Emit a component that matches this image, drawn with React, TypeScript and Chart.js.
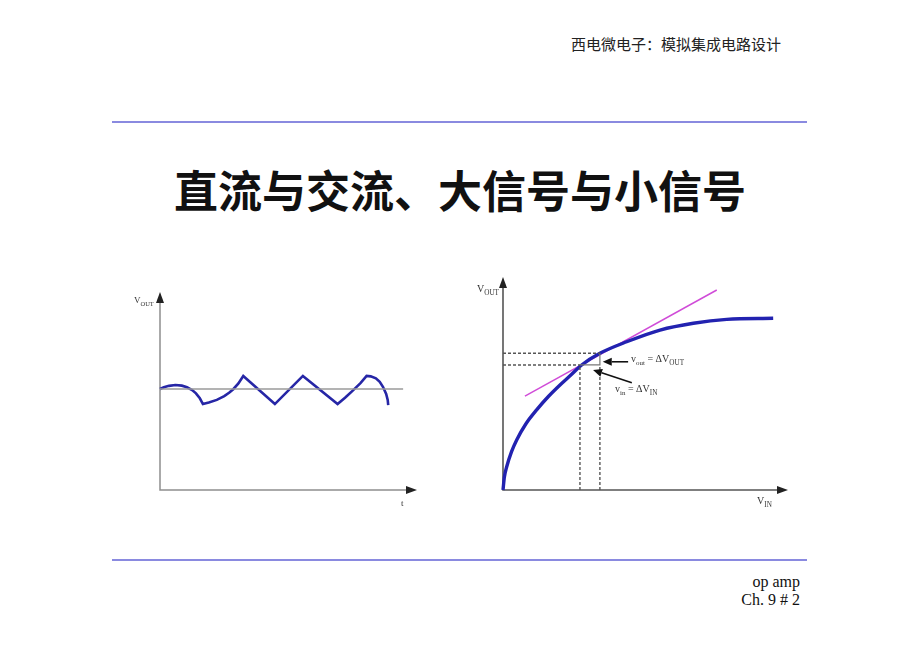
import React, { useEffect, useRef } from "react";
import { Chart, registerables } from "chart.js";

Chart.register(...registerables);

// ---------- Left diagram: DC level with a small AC signal (V_OUT vs t) ----------
const dcLevelT = [0, 9.46];
const dcLevelV = [5.1, 5.1];
const waveT = [
  0, 0.15, 0.35, 0.6, 0.85, 1.05, 1.25, 1.4, 1.55, 1.67,
  1.9, 2.21, 2.5, 2.7, 2.85, 3.05, 3.24,
  4.47, 5.56, 6.91,
  7.2, 7.5, 7.8, 8.04,
  8.2, 8.4, 8.55, 8.68, 8.8, 8.86, 8.88,
];
const waveV = [
  5.1, 5.19, 5.26, 5.3, 5.27, 5.19, 5.05, 4.88, 4.63, 4.34,
  4.42, 4.55, 4.74, 4.92, 5.09, 5.38, 5.76,
  4.34, 5.76, 4.34,
  4.66, 5.02, 5.4, 5.76,
  5.74, 5.64, 5.46, 5.2, 4.85, 4.55, 4.29,
];

// ---------- Right diagram: large-signal transfer curve and small-signal tangent ----------
const vinX = [0, 0.05, 0.13, 0.3, 0.48, 0.8, 1.18, 1.6, 2.0, 2.4, 2.76, 3.4, 4.34, 5.51, 6.68, 7.85, 9.48];
const voutY = [0, 0.62, 1.09, 1.8, 2.35, 3.1, 3.76, 4.4, 4.93, 5.42, 5.87, 6.42, 6.96, 7.51, 7.83, 8.01, 8.06];
const tangentX = [0.77, 7.5];
const tangentY = [4.41, 9.39];
const biasIn = [2.7, 3.4];
const biasOut = [5.87, 6.42];
// annotation arrows: [tailX, tailY, headX, headY]
const arrowVout = [4.39, 6.02, 3.5, 6.02];
const arrowVin = [4.52, 5.04, 3.16, 5.63];

const pts = (xs: number[], ys: number[]) => xs.map((x, i) => ({ x, y: ys[i] }));

const axisArrows = {
  id: "axisArrows",
  beforeDatasetsDraw(chart: any, _args: any, opts: any) {
    const { ctx, chartArea: a } = chart;
    ctx.save();
    ctx.strokeStyle = opts.color;
    ctx.lineWidth = opts.width;
    ctx.beginPath();
    ctx.moveTo(a.left, a.top + 6);
    ctx.lineTo(a.left, a.bottom);
    ctx.lineTo(a.right - 6, a.bottom);
    ctx.stroke();
    ctx.fillStyle = opts.head;
    ctx.beginPath();
    ctx.moveTo(a.left, a.top);
    ctx.lineTo(a.left - 4, a.top + 11);
    ctx.lineTo(a.left + 4, a.top + 11);
    ctx.closePath();
    ctx.fill();
    ctx.beginPath();
    ctx.moveTo(a.right, a.bottom);
    ctx.lineTo(a.right - 11, a.bottom - 4);
    ctx.lineTo(a.right - 11, a.bottom + 4);
    ctx.closePath();
    ctx.fill();
    ctx.restore();
  },
};

const noteArrows = {
  id: "noteArrows",
  afterDatasetsDraw(chart: any, _args: any, opts: any) {
    const list: number[][] = opts.arrows || [];
    if (!list.length) return;
    const { ctx, scales } = chart;
    ctx.save();
    ctx.strokeStyle = "#111";
    ctx.fillStyle = "#111";
    ctx.lineWidth = 1.6;
    for (const [tx, ty, hx, hy] of list) {
      const x0 = scales.x.getPixelForValue(tx);
      const y0 = scales.y.getPixelForValue(ty);
      const x1 = scales.x.getPixelForValue(hx);
      const y1 = scales.y.getPixelForValue(hy);
      const ang = Math.atan2(y1 - y0, x1 - x0);
      const L = 9, W = 4;
      const bx = x1 - L * Math.cos(ang);
      const by = y1 - L * Math.sin(ang);
      ctx.beginPath();
      ctx.moveTo(x0, y0);
      ctx.lineTo(bx, by);
      ctx.stroke();
      ctx.beginPath();
      ctx.moveTo(x1, y1);
      ctx.lineTo(bx - W * Math.sin(ang), by + W * Math.cos(ang));
      ctx.lineTo(bx + W * Math.sin(ang), by - W * Math.cos(ang));
      ctx.closePath();
      ctx.fill();
    }
    ctx.restore();
  },
};

const hiddenScales = {
  x: { type: "linear", min: 0, max: 10, display: false },
  y: { type: "linear", min: 0, max: 10, display: false },
};

const baseOptions = (padding: any, axis: any, arrows: number[][]) => ({
  responsive: false,
  animation: false,
  devicePixelRatio: 1,
  layout: { padding },
  scales: hiddenScales,
  plugins: {
    legend: { display: false },
    tooltip: { enabled: false },
    axisArrows: axis,
    noteArrows: { arrows },
  },
  elements: { point: { radius: 0 } },
});

const LeftChart = () => {
  const ref = useRef<HTMLCanvasElement>(null);
  useEffect(() => {
    const chart = new Chart(ref.current as HTMLCanvasElement, {
      type: "scatter",
      data: {
        datasets: [
          {
            data: pts(dcLevelT, dcLevelV),
            showLine: true,
            borderColor: "#9a9a9a",
            borderWidth: 1.5,
            pointRadius: 0,
            clip: false,
          },
          {
            data: pts(waveT, waveV),
            showLine: true,
            borderColor: "#2626a6",
            borderWidth: 2.6,
            pointRadius: 0,
            tension: 0,
            clip: false,
          },
        ],
      } as any,
      options: baseOptions(
        { left: 10, top: 10, right: 13, bottom: 12 },
        { color: "#8f8f8f", width: 1.5, head: "#222" },
        []
      ) as any,
      plugins: [axisArrows, noteArrows],
    });
    return () => chart.destroy();
  }, []);
  return (
    <canvas
      ref={ref}
      width={280}
      height={220}
      style={{ position: "absolute", left: 150, top: 282, width: 280, height: 220 }}
    />
  );
};

const RightChart = () => {
  const ref = useRef<HTMLCanvasElement>(null);
  useEffect(() => {
    const dash = [3, 2];
    const gray = "#555";
    const chart = new Chart(ref.current as HTMLCanvasElement, {
      type: "scatter",
      data: {
        datasets: [
          { data: pts([0, biasIn[1]], [biasOut[1], biasOut[1]]), showLine: true, borderColor: gray, borderWidth: 1.4, borderDash: dash, pointRadius: 0, clip: false },
          { data: pts([0, biasIn[0]], [biasOut[0], biasOut[0]]), showLine: true, borderColor: gray, borderWidth: 1.4, borderDash: dash, pointRadius: 0, clip: false },
          { data: pts([biasIn[0], biasIn[0]], [0, biasOut[0]]), showLine: true, borderColor: gray, borderWidth: 1.4, borderDash: dash, pointRadius: 0, clip: false },
          { data: pts([biasIn[1], biasIn[1]], [0, biasOut[0]]), showLine: true, borderColor: gray, borderWidth: 1.4, borderDash: dash, pointRadius: 0, clip: false },
          { data: pts([biasIn[0], biasIn[1], biasIn[1]], [biasOut[0], biasOut[0], biasOut[1]]), showLine: true, borderColor: "#777", borderWidth: 1.2, pointRadius: 0, clip: false },
          {
            data: pts(vinX, voutY),
            showLine: true,
            borderColor: "#2222b0",
            borderWidth: 3.4,
            pointRadius: 0,
            tension: 0.4,
            cubicInterpolationMode: "monotone",
            clip: false,
          },
          { data: pts(tangentX, tangentY), showLine: true, borderColor: "#d04cd8", borderWidth: 1.5, pointRadius: 0, clip: false },
        ],
      } as any,
      options: baseOptions(
        { left: 13, top: 10, right: 12, bottom: 10 },
        { color: "#555", width: 1.6, head: "#222" },
        [arrowVout, arrowVin]
      ) as any,
      plugins: [axisArrows, noteArrows],
    });
    return () => chart.destroy();
  }, []);
  return (
    <canvas
      ref={ref}
      width={310}
      height={233}
      style={{ position: "absolute", left: 490, top: 267, width: 310, height: 233 }}
    />
  );
};

const serif = "'Liberation Serif', 'DejaVu Serif', serif";
const cjk = "'Noto Sans CJK SC', sans-serif";

const Label = ({ left, top, main, sub, size = 10 }: any) => (
  <div
    style={{
      position: "absolute",
      left,
      top,
      fontFamily: serif,
      fontSize: size,
      color: "#333",
      lineHeight: 1,
      whiteSpace: "nowrap",
    }}
  >
    {main}
    {sub ? <span style={{ fontSize: size * 0.72, position: "relative", top: size * 0.3 }}>{sub}</span> : null}
  </div>
);

export default function App() {
  return (
    <div
      style={{
        position: "fixed",
        left: 0,
        top: 0,
        width: 920,
        height: 651,
        background: "#fff",
        overflow: "hidden",
      }}
    >
      <div
        style={{
          position: "absolute",
          left: 571,
          top: 35,
          fontFamily: cjk,
          fontSize: 15,
          lineHeight: "18px",
          color: "#222",
          whiteSpace: "nowrap",
          fontWeight: 400,
        }}
      >
        西电微电子：模拟集成电路设计
      </div>
      <div style={{ position: "absolute", left: 112, top: 121, width: 695, height: 2, background: "#8a8ae0" }} />
      <div
        style={{
          position: "absolute",
          left: 112,
          width: 696,
          top: 162,
          textAlign: "center",
          fontFamily: cjk,
          fontSize: 44,
          lineHeight: "54px",
          fontWeight: 700,
          color: "#111",
          whiteSpace: "nowrap",
        }}
      >
        直流与交流、大信号与小信号
      </div>

      <LeftChart />
      <RightChart />

      <Label left={134} top={296} main="V" sub="OUT" size={9} />
      <Label left={401} top={499} main="t" size={9} />
      <Label left={477} top={284} main="V" sub="OUT" size={10} />
      <Label left={757} top={496} main="V" sub="IN" size={10} />
      <Label left={631} top={354} main={<span>v<span style={{ fontSize: 7, position: "relative", top: 3 }}>out</span> = ΔV</span>} sub="OUT" size={10} />
      <Label left={615} top={384} main={<span>v<span style={{ fontSize: 7, position: "relative", top: 3 }}>in</span> = ΔV</span>} sub="IN" size={10} />

      <div style={{ position: "absolute", left: 112, top: 559, width: 695, height: 2, background: "#8a8ae0" }} />
      <div
        style={{
          position: "absolute",
          right: 120,
          top: 573,
          textAlign: "right",
          fontFamily: serif,
          fontSize: 16,
          lineHeight: "18px",
          color: "#111",
          whiteSpace: "nowrap",
        }}
      >
        op amp
        <br />
        Ch. 9 # 2
      </div>
    </div>
  );
}
